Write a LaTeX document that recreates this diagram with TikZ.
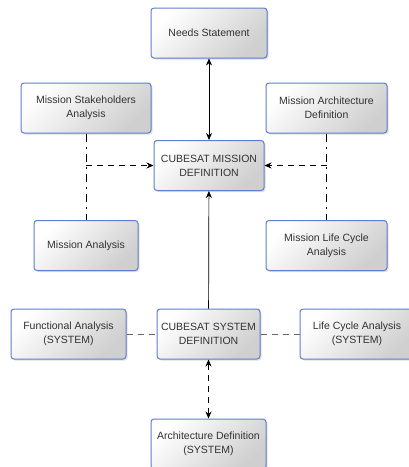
\documentclass[tikz,border=0pt]{standalone}
\usepackage{fontspec}
\setmainfont{Liberation Sans}
\usetikzlibrary{arrows.meta,shadows}
\definecolor{boxblue}{RGB}{96,126,206}
\definecolor{txtgray}{RGB}{50,50,50}

\begin{document}
\begin{tikzpicture}[x=1pt,y=-1pt,
    block/.style={draw=boxblue, line width=1pt, rounded corners=3pt,
        top color=white, bottom color=black!19, shading angle=45,
        drop shadow={opacity=0.25, shadow xshift=1.5pt, shadow yshift=-1.5pt},
        align=center, text=txtgray, font=\fontsize{10.5}{14}\selectfont,
        inner sep=0pt, minimum height=50pt},
    link/.style={line width=0.7pt},
    dlink/.style={link, dash pattern=on 6pt off 5pt},
    ddlink/.style={link, dash pattern=on 8pt off 5pt on 2pt off 5pt},
    tip/.style={-{Stealth[length=7pt,width=6pt]}},
    tips/.style={{Stealth[length=7pt,width=6pt]}-{Stealth[length=7pt,width=6pt]}}
]

    \path[use as bounding box, clip] (0,0) rectangle (409,467);

    % mission level
    \node[block, minimum width=116pt] (needs) at (209,33) {Needs Statement};
    \node[block, minimum width=130pt] (stake) at (86,108) {Mission Stakeholders\\Analysis};
    \node[block, minimum width=121pt] (march) at (326.5,108) {Mission Architecture\\Definition};
    \node[block, minimum width=110pt] (mdef) at (209,165.5) {CUBESAT MISSION\\DEFINITION};
    \node[block, minimum width=104pt] (manal) at (86,245.5) {Mission Analysis};
    \node[block, minimum width=121pt] (mlife) at (326.5,245.5) {Mission Life Cycle\\Analysis};

    % system level
    \node[block, minimum width=103pt] (sdef) at (208.5,334) {CUBESAT SYSTEM\\DEFINITION};
    \node[block, minimum width=115pt] (func) at (68.5,334) {Functional Analysis\\(SYSTEM)};
    \node[block, minimum width=114pt] (slife) at (357,334) {Life Cycle Analysis\\(SYSTEM)};
    \node[block, minimum width=115pt] (sarch) at (208.5,444) {Architecture Definition\\(SYSTEM)};

    \coordinate (jl) at (stake.south |- mdef.west);
    \coordinate (jr) at (march.south |- mdef.east);

    \draw[link, tips] (needs) -- (mdef);
    \draw[link, tip] (sdef) -- (mdef);

    \draw[ddlink] (stake) -- (manal);
    \draw[dlink, tip] (jl) -- (mdef.west);
    \draw[ddlink] (march) -- (mlife);
    \draw[dlink, tip] (jr) -- (mdef.east);

    \draw[dlink, black!60] (func) -- (sdef);
    \draw[dlink, black!60] (sdef) -- (slife);
    \draw[dlink, tips] (sdef) -- (sarch);

\end{tikzpicture}
\end{document}
